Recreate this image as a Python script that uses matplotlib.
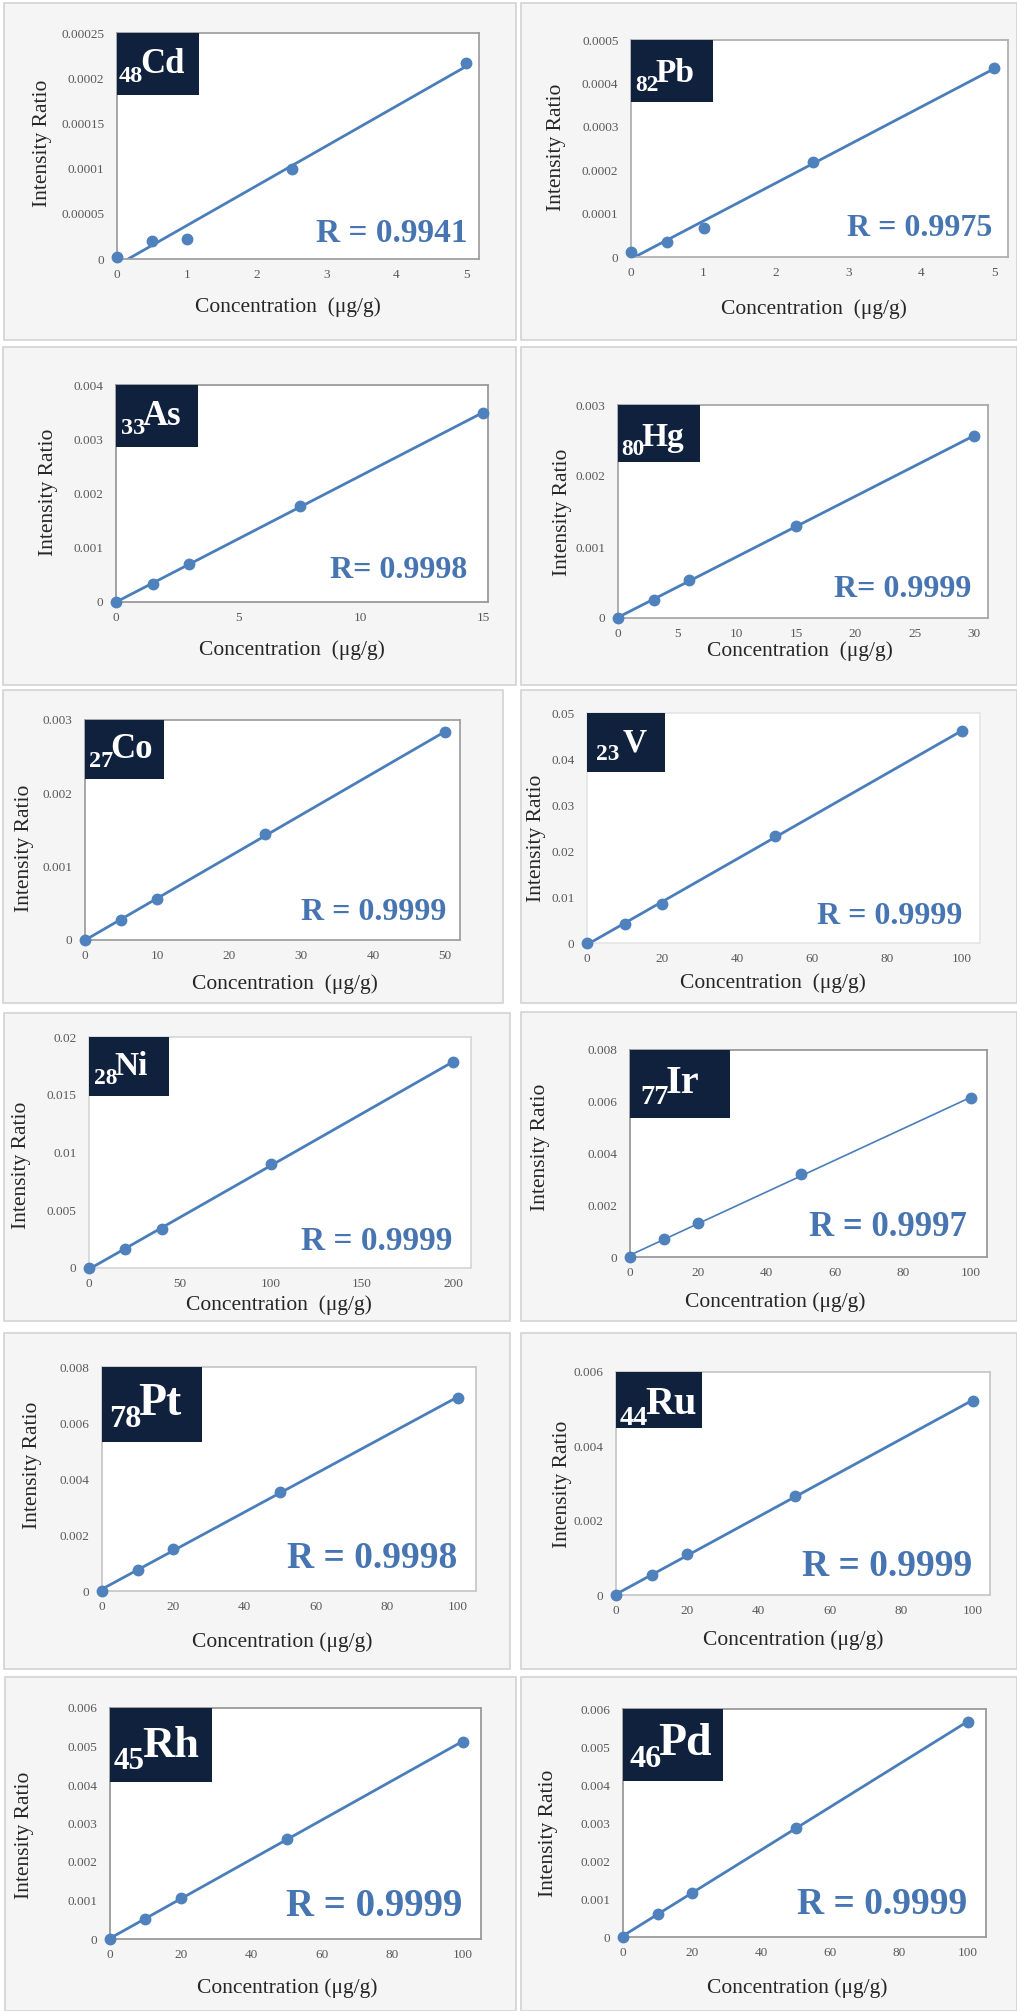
import numpy as np
import matplotlib.pyplot as plt
from matplotlib.patches import Rectangle

plt.rcParams['font.family'] = ['Liberation Serif', 'DejaVu Serif']

W, H = 1017, 2011

# calibration standards (µg/g) and measured intensity ratios
conc_cd = [0, 0.5, 1, 2.5, 5]
ratio_cd = [0.000002, 0.00002, 0.000022, 0.0001, 0.000217]
conc_pb = [0, 0.5, 1, 2.5, 5]
ratio_pb = [0.0000115, 0.000034, 0.000066, 0.00022, 0.000435]
conc_as = [0, 1.5, 3, 7.5, 15]
ratio_as = [0, 0.00033, 0.0007, 0.001775, 0.00348]
conc_hg = [0, 3, 6, 15, 30]
ratio_hg = [0, 0.00026, 0.00053, 0.0013, 0.00256]
conc_co = [0, 5, 10, 25, 50]
ratio_co = [0, 0.000273, 0.000559, 0.001445, 0.002832]
conc_v = [0, 10, 20, 50, 100]
ratio_v = [0, 0.00413, 0.00848, 0.02326, 0.0461]
conc_ni = [0, 20, 40, 100, 200]
ratio_ni = [0, 0.00162, 0.00338, 0.00898, 0.01783]
conc_ir = [0, 10, 20, 50, 100]
ratio_ir = [0, 0.000684, 0.00133, 0.0032, 0.00613]
conc_pt = [0, 10, 20, 50, 100]
ratio_pt = [0, 0.00075, 0.0015, 0.00355, 0.0069]
conc_ru = [0, 10, 20, 50, 100]
ratio_ru = [0, 0.00053, 0.00109, 0.00266, 0.00523]
conc_rh = [0, 10, 20, 50, 100]
ratio_rh = [0, 0.000512, 0.00107, 0.0026, 0.005125]
conc_pd = [0, 10, 20, 50, 100]
ratio_pd = [0, 0.000605, 0.00117, 0.00288, 0.00566]

# axis ticks
xt_5 = [0, 1, 2, 3, 4, 5]
xt_15 = [0, 5, 10, 15]
xt_30 = [0, 5, 10, 15, 20, 25, 30]
xt_50 = [0, 10, 20, 30, 40, 50]
xt_100 = [0, 20, 40, 60, 80, 100]
xt_200 = [0, 50, 100, 150, 200]
yt_cd = [0, 0.00005, 0.0001, 0.00015, 0.0002, 0.00025]
yt_pb = [0, 0.0001, 0.0002, 0.0003, 0.0004, 0.0005]
yt_as = [0, 0.001, 0.002, 0.003, 0.004]
yt_hg = [0, 0.001, 0.002, 0.003]
yt_co = [0, 0.001, 0.002, 0.003]
yt_v = [0, 0.01, 0.02, 0.03, 0.04, 0.05]
yt_ni = [0, 0.005, 0.01, 0.015, 0.02]
yt_ir = [0, 0.002, 0.004, 0.006, 0.008]
yt_pt = [0, 0.002, 0.004, 0.006, 0.008]
yt_ru = [0, 0.002, 0.004, 0.006]
yt_rh = [0, 0.001, 0.002, 0.003, 0.004, 0.005, 0.006]
yt_pd = [0, 0.001, 0.002, 0.003, 0.004, 0.005, 0.006]

atomic_nums = ['48', '82', '33', '80', '27', '23', '28', '77', '78', '44', '45', '46']
symbols = ['Cd', 'Pb', 'As', 'Hg', 'Co', 'V', 'Ni', 'Ir', 'Pt', 'Ru', 'Rh', 'Pd']
r_texts = ['R = 0.9941', 'R = 0.9975', 'R= 0.9998', 'R= 0.9999',
           'R = 0.9999', 'R = 0.9999', 'R = 0.9999', 'R = 0.9997',
           'R = 0.9998', 'R = 0.9999', 'R = 0.9999', 'R = 0.9999']
XLAB_WIDE = 'Concentration  (μg/g)'
XLAB = 'Concentration (μg/g)'

# layout in pixels: frame/ax/box = (left, top, right, bottom)
panels = [
    dict(x=conc_cd, y=ratio_cd, xt=xt_5, yt=yt_cd, xlab=XLAB_WIDE,
         frame=(4, 3, 516, 340), ax=(117, 33, 479, 259), xpx=466,
         box=(117, 33, 199, 95), lab_xy=(119, 73), lab_fs=25,
         r_xy=(468, 233), r_fs=24, ylab_xy=(42, 143), xlab_xy=(288, 307),
         spine='#a0a0a0', lw=2.0),
    dict(x=conc_pb, y=ratio_pb, xt=xt_5, yt=yt_pb, xlab=XLAB_WIDE,
         frame=(521, 3, 1017, 340), ax=(631, 40, 1008, 257), xpx=994,
         box=(631, 40, 713, 102), lab_xy=(635, 82), lab_fs=24,
         r_xy=(992, 228), r_fs=23, ylab_xy=(557, 147), xlab_xy=(814, 309),
         spine='#b0b0b0', lw=2.0),
    dict(x=conc_as, y=ratio_as, xt=xt_15, yt=yt_as, xlab=XLAB_WIDE,
         frame=(3, 347, 516, 685), ax=(116, 385, 488, 602), xpx=483,
         box=(116, 385, 198, 447), lab_xy=(121, 425), lab_fs=25,
         r_xy=(467, 570), r_fs=23, ylab_xy=(49, 492), xlab_xy=(292, 650),
         spine='#9a9a9a', lw=2.0),
    dict(x=conc_hg, y=ratio_hg, xt=xt_30, yt=yt_hg, xlab=XLAB_WIDE,
         frame=(521, 347, 1017, 685), ax=(618, 405, 988, 618), xpx=974,
         box=(618, 405, 700, 462), lab_xy=(621, 446), lab_fs=24,
         r_xy=(971, 590), r_fs=23, ylab_xy=(562, 512), xlab_xy=(800, 651),
         spine='#a8a8a8', lw=2.0),
    dict(x=conc_co, y=ratio_co, xt=xt_50, yt=yt_co, xlab=XLAB_WIDE,
         frame=(3, 690, 503, 1003), ax=(85, 720, 460, 940), xpx=445,
         box=(85, 720, 164, 779), lab_xy=(89, 758), lab_fs=25,
         r_xy=(446, 913), r_fs=23, ylab_xy=(25, 848), xlab_xy=(285, 984),
         spine='#a0a0a0', lw=2.0),
    dict(x=conc_v, y=ratio_v, xt=xt_100, yt=yt_v, xlab=XLAB_WIDE,
         frame=(521, 690, 1017, 1003), ax=(587, 713, 980, 943), xpx=962,
         box=(587, 713, 665, 772), lab_xy=(596, 751), lab_fs=24,
         r_xy=(962, 916), r_fs=23, ylab_xy=(536, 838), xlab_xy=(773, 983),
         spine='#e6e6e6', lw=2.0),
    dict(x=conc_ni, y=ratio_ni, xt=xt_200, yt=yt_ni, xlab=XLAB_WIDE,
         frame=(4, 1013, 510, 1321), ax=(89, 1037, 471, 1268), xpx=453,
         box=(89, 1037, 169, 1096), lab_xy=(94, 1075), lab_fs=24,
         r_xy=(452, 1241), r_fs=24, ylab_xy=(22, 1165), xlab_xy=(279, 1305),
         spine='#d8d8d8', lw=2.0),
    dict(x=conc_ir, y=ratio_ir, xt=xt_100, yt=yt_ir, xlab=XLAB,
         frame=(521, 1012, 1017, 1321), ax=(630, 1050, 987, 1257), xpx=971,
         box=(630, 1050, 730, 1118), lab_xy=(640, 1093), lab_fs=29,
         r_xy=(967, 1228), r_fs=25, ylab_xy=(541, 1147), xlab_xy=(775, 1302),
         spine='#9a9a9a', lw=1.2),
    dict(x=conc_pt, y=ratio_pt, xt=xt_100, yt=yt_pt, xlab=XLAB,
         frame=(4, 1333, 510, 1669), ax=(102, 1367, 476, 1591), xpx=458,
         box=(102, 1367, 202, 1442), lab_xy=(109, 1415), lab_fs=33,
         r_xy=(457, 1558), r_fs=27, ylab_xy=(32, 1465), xlab_xy=(282, 1642),
         spine='#c8c8c8', lw=2.0),
    dict(x=conc_ru, y=ratio_ru, xt=xt_100, yt=yt_ru, xlab=XLAB,
         frame=(521, 1333, 1017, 1669), ax=(616, 1372, 990, 1595), xpx=973,
         box=(616, 1372, 702, 1428), lab_xy=(620, 1414), lab_fs=29,
         r_xy=(972, 1567), r_fs=27, ylab_xy=(562, 1484), xlab_xy=(793, 1640),
         spine='#c8c8c8', lw=2.0),
    dict(x=conc_rh, y=ratio_rh, xt=xt_100, yt=yt_rh, xlab=XLAB,
         frame=(5, 1677, 516, 2011), ax=(110, 1708, 481, 1939), xpx=463,
         box=(110, 1708, 212, 1782), lab_xy=(114, 1757), lab_fs=32,
         r_xy=(462, 1907), r_fs=28, ylab_xy=(25, 1835), xlab_xy=(287, 1988),
         spine='#9a9a9a', lw=2.0),
    dict(x=conc_pd, y=ratio_pd, xt=xt_100, yt=yt_pd, xlab=XLAB,
         frame=(521, 1677, 1017, 2011), ax=(623, 1709, 986, 1937), xpx=968,
         box=(623, 1709, 723, 1781), lab_xy=(629, 1755), lab_fs=33,
         r_xy=(967, 1905), r_fs=27, ylab_xy=(548, 1833), xlab_xy=(797, 1988),
         spine='#9a9a9a', lw=2.0),
]

PANEL_BG = '#f5f5f5'
PANEL_EDGE = '#d3d3d3'
NAVY = '#0f213d'
BLUE = '#4a7ebb'
R_BLUE = '#4775b2'
TICK_GREY = '#595959'


def fmt(v):
    return np.format_float_positional(v, trim='-')


def fig_rect(l, t, r, b):
    return (l / W, 1 - b / H, (r - l) / W, (b - t) / H)


fig = plt.figure(figsize=(W / 100, H / 100), dpi=100)
fig.patch.set_facecolor('white')
renderer = fig.canvas.get_renderer()

for num, sym, rtxt, p in zip(atomic_nums, symbols, r_texts, panels):
    x0, y0, w, h = fig_rect(*p['frame'])
    fig.add_artist(Rectangle((x0, y0), w, h, transform=fig.transFigure,
                             facecolor=PANEL_BG, edgecolor=PANEL_EDGE,
                             lw=1.2, zorder=-1))

    L, T, R, B = p['ax']
    ax = fig.add_axes(fig_rect(L, T, R, B))
    ax.set_facecolor('white')
    xt, yt = p['xt'], p['yt']
    ax.set_xlim(0, xt[-1] * (R - L) / (p['xpx'] - L))
    ax.set_ylim(0, yt[-1])
    ax.set_xticks(xt)
    ax.set_xticklabels([fmt(v) for v in xt])
    ax.set_yticks(yt)
    ax.set_yticklabels([fmt(v) for v in yt])
    ax.tick_params(length=0, labelsize=9.5, labelcolor=TICK_GREY)
    ax.tick_params(axis='x', pad=7)
    ax.tick_params(axis='y', pad=9)
    for s in ax.spines.values():
        s.set_color(p['spine'])
        s.set_linewidth(1.3)

    # linear trendline through the standards
    xs = np.asarray(p['x'], dtype=float)
    ys = np.asarray(p['y'], dtype=float)
    slope, icpt = np.polyfit(xs, ys, 1)
    xl = np.array([0, xs[-1]])
    ax.plot(xl, slope * xl + icpt, color=BLUE, lw=p['lw'], zorder=2)
    ax.plot(xs, ys, 'o', color='#4f81bd', ms=7.5, zorder=3, clip_on=False)

    # element tag: atomic number as a leading subscript, then the symbol
    bx0, by0, bw, bh = fig_rect(*p['box'])
    fig.add_artist(Rectangle((bx0, by0), bw, bh, transform=fig.transFigure,
                             facecolor=NAVY, edgecolor='none', zorder=5))
    lx, ly = p['lab_xy']
    fs = p['lab_fs']
    drop = 0.27 * fs * 100 / 72
    t_num = fig.text(lx / W, 1 - (ly + drop) / H, num, color='white',
                     fontsize=fs * 0.7, fontweight='bold',
                     ha='left', va='baseline', zorder=6)
    num_right = t_num.get_window_extent(renderer).x1
    sym_gap = 3 if sym == 'V' else -3
    fig.text((num_right + sym_gap) / W, 1 - ly / H, sym, color='white',
             fontsize=fs, fontweight='bold', ha='left', va='baseline',
             zorder=6)

    fig.text(p['r_xy'][0] / W, 1 - p['r_xy'][1] / H, rtxt, color=R_BLUE,
             fontsize=p['r_fs'], fontweight='bold', ha='right', va='center',
             zorder=6)
    fig.text(p['ylab_xy'][0] / W, 1 - p['ylab_xy'][1] / H, 'Intensity Ratio',
             rotation=90, fontsize=15.5, color='#262626',
             ha='center', va='center')
    fig.text(p['xlab_xy'][0] / W, 1 - p['xlab_xy'][1] / H, p['xlab'],
             fontsize=15.5, color='#262626', ha='center', va='center')

fig.savefig('out.png', dpi=100, facecolor='white')
